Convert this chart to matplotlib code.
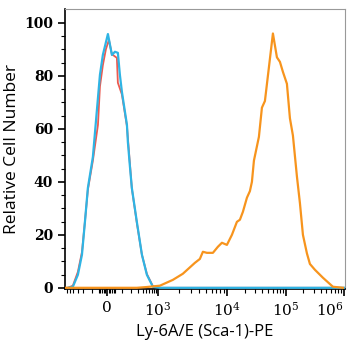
import numpy as np
import matplotlib
matplotlib.use("Agg")
import matplotlib.pyplot as plt
from matplotlib.ticker import FixedLocator, FixedFormatter

plt.rcParams['mathtext.fontset'] = 'dejavuserif'

# isotype / unstained controls (red, blue) and stained sample (orange)
red_x = [-650, -574, -412, -293, -220, -177, -141, -92, -55, -42, -24, -6, 12, 30, 36,
         62, 69, 100, 147, 180, 205, 282, 385, 520, 743, 1069, 1e6]
red_y = [0, 0, 0.8, 6, 13.5, 25, 37, 48, 61.5, 76, 84, 90, 93.6, 88, 87.9,
         86.8, 77.4, 73, 61, 47, 37.5, 24.5, 12.5, 5.2, 0.6, 0, 0]

blue_x = [-574, -412, -293, -220, -177, -141, -92, -42, -24, 6, 30, 49, 69, 84, 100,
          147, 157, 180, 205, 282, 385, 520, 743, 1069, 1e6]
blue_y = [0, 0.4, 4.9, 12.5, 24.9, 37.7, 49.4, 80.4, 87.9, 95.8, 87.9, 89.1, 88.7, 80.4, 74.0,
          61.5, 55, 46, 37.7, 24.9, 12.5, 4.9, 0.4, 0, 0]

orange_x = [-700, 0, 282, 520, 1069, 1650, 2300, 3430, 4060, 4490, 5130, 6270, 7410, 8470,
            10000, 12160, 14770, 16610, 18670, 21830, 24530, 26530, 28690, 34860, 39200,
            44060, 60210, 70390, 79120, 88970, 104050, 117200, 132000, 154800, 174300,
            196400, 230100, 259300, 316200, 434500, 645700, 961000]
orange_y = [0, 0, 0, 0.3, 0.8, 3.0, 5.3, 9.4, 10.9, 13.6, 13.2, 13.2, 15.5, 17.0,
            16.2, 20.0, 24.9, 25.7, 28.7, 34, 36.5, 40, 48, 57, 68,
            70.5, 96, 87, 85.3, 81.5, 77, 64, 57.5, 42, 32,
            20, 13, 9, 6.8, 3.8, 0.4, 0]

tick_vals = [0, 1e3, 1e4, 1e5, 1e6]
tick_text = ['0', '$10^3$', '$10^4$', '$10^5$', '$10^6$']

# biexponential-like display scale (anchored on the decade positions)
anchor_val = np.array([-1e5, -700, -100, 0, 100, 1e3, 1e4, 1e5, 1e6, 1e8])
anchor_pos = np.array([-118, -42, -15, 0, 15, 51, 120, 179, 237, 353], dtype=float)
anchor_g = np.arcsinh(anchor_val / 100.0)


def fwd(x):
    return np.interp(np.arcsinh(np.asarray(x, dtype=float) / 100.0), anchor_g, anchor_pos)


def inv(p):
    return 100.0 * np.sinh(np.interp(np.asarray(p, dtype=float), anchor_pos, anchor_g))


fig = plt.figure(figsize=(3.47, 3.54), dpi=100)
ax = fig.add_axes([0.187, 0.184, 0.807, 0.791])
ax.set_xscale('function', functions=(fwd, inv))

ax.plot(red_x, red_y, color='#ec5a50', lw=1.3, zorder=2)
ax.plot(blue_x, blue_y, color='#2fb4e4', lw=1.6, zorder=3)
ax.plot(orange_x, orange_y, color='#f7941d', lw=1.6, zorder=4)

ax.set_xlim(-700, 1.04e6)
ax.set_ylim(-0.4, 105.3)

ax.xaxis.set_major_locator(FixedLocator(tick_vals))
ax.xaxis.set_major_formatter(FixedFormatter(tick_text))
minor = [-600, -500, -400, -300, -200, -100, -50, -40, -30, -20, -10, 10, 20, 30, 40, 50]
minor += [k * 100 for k in range(1, 10)]
for dec in [1e3, 1e4, 1e5]:
    minor += [k * dec for k in range(2, 10)]
ax.xaxis.set_minor_locator(FixedLocator(minor))
ax.set_yticks(range(0, 101, 20))
ax.set_yticks(range(0, 101, 5), minor=True)

ax.tick_params(which='major', direction='out', length=5, width=1.2, labelsize=10)
ax.tick_params(which='minor', direction='out', length=3, width=0.8)
for lab in ax.get_yticklabels():
    lab.set_fontfamily('DejaVu Serif')
    lab.set_fontweight('bold')
xlabs = ax.get_xticklabels()
for lab in xlabs:
    lab.set_fontfamily('DejaVu Serif')
    lab.set_fontsize(11)
xlabs[-1].set_horizontalalignment('right')

for s in ['top', 'right']:
    ax.spines[s].set_color('#999999')
    ax.spines[s].set_linewidth(0.8)
for s in ['left', 'bottom']:
    ax.spines[s].set_linewidth(1.2)

ax.set_ylabel('Relative Cell Number', fontsize=12.5, fontfamily='Open Sans', labelpad=3)
ax.set_xlabel('Ly-6A/E (Sca-1)-PE', fontsize=12, fontfamily='Open Sans')

fig.savefig('out.png', dpi=100)
